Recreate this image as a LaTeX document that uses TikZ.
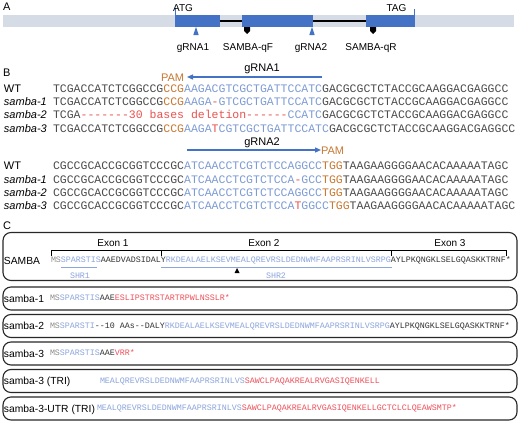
\documentclass[tikz,border=0pt]{standalone}
\usepackage{fontspec}
\setmainfont{Liberation Sans}
\setmonofont{Liberation Mono}
\usetikzlibrary{arrows.meta}
\definecolor{gblue}{RGB}{68,114,196}
\definecolor{bargray}{RGB}{214,220,230}
\definecolor{sdark}{RGB}{75,75,75}
\definecolor{sblue}{RGB}{125,155,212}
\definecolor{sorange}{RGB}{200,120,50}
\definecolor{sred}{RGB}{232,82,80}
\definecolor{pgray}{RGB}{140,140,140}
\definecolor{pblue}{RGB}{140,165,220}
\definecolor{pdark}{RGB}{50,50,50}
\definecolor{pred}{RGB}{238,80,90}
\definecolor{boxline}{RGB}{40,40,40}
\newcommand\cDk[1]{\textcolor{sdark}{#1}}
\newcommand\cBl[1]{\textcolor{sblue}{#1}}
\newcommand\cOr[1]{\textcolor{sorange}{#1}}
\newcommand\cRd[1]{\textcolor{sred}{#1}}
\newcommand\pGy[1]{\textcolor{pgray}{#1}}
\newcommand\pBl[1]{\textcolor{pblue}{#1}}
\newcommand\pDk[1]{\textcolor{pdark}{#1}}
\newcommand\pRd[1]{\textcolor{pred}{#1}}
\begin{document}
\begin{tikzpicture}[x=1pt,y=-1pt,
  every node/.style={inner sep=0pt, outer sep=0pt},
  panel/.style={anchor=base west, font=\fontsize{11}{12}\selectfont},
  glab/.style={anchor=base, font=\fontsize{10}{12}\selectfont},
  rowlab/.style={anchor=base west, font=\fontsize{11}{12}\selectfont\itshape},
  rowlabup/.style={anchor=base west, font=\fontsize{11}{12}\selectfont},
  dnaseq/.style={anchor=base west, font=\fontsize{11.5}{12}\ttfamily},
  protseq/.style={anchor=base west, font=\fontsize{8.33}{10}\ttfamily},
  protlab/.style={anchor=base west, font=\fontsize{10.3}{12}\selectfont},
  exlab/.style={anchor=base, font=\fontsize{10}{12}\selectfont},
  shrlab/.style={anchor=base, font=\fontsize{8.33}{10}\ttfamily, text=pblue},
  pbox/.style={draw=boxline, line width=1.1pt, rounded corners=8pt, minimum width=514pt},
  garrow/.style={draw=gblue, line width=1.2pt, -{Triangle[length=6pt,width=5pt]}},
  gtri/.style={fill=gblue},
  primer/.style={fill=black}]
\useasboundingbox (0,0) rectangle (520,423);
\fill[white] (0,0) rectangle (520,423);

% ---------------- A ----------------
\node[panel] (pa) at (3,10) {A};
\fill[bargray] (3,15) rectangle (514,27);
\draw[line width=1.3pt] (220,21) -- (242,21);
\draw[line width=1.3pt] (313,21) -- (366,21);
\fill[gblue] (175,15) rectangle (220,27);
\fill[gblue] (242,15) rectangle (313,27);
\fill[gblue] (366,15) rectangle (415,27);
\draw[gblue, line width=0.9pt] (175.5,8) -- (175.5,15);
\draw[gblue, line width=0.9pt] (414.5,9) -- (414.5,15);
\node[glab] (atg) at (183,11) {ATG};
\node[glab] (tag) at (396.5,11) {TAG};
\fill[gtri] (196,27) -- (193.3,35) -- (198.7,35) -- cycle;
\fill[gtri] (312,27) -- (309.3,35) -- (314.7,35) -- cycle;
\fill[primer] (244,27) -- (250,27) -- (250,31) -- (247,34) -- (244,31) -- cycle;
\fill[primer] (370,27) -- (376,27) -- (376,31) -- (373,34) -- (370,31) -- cycle;
\node[glab] (lg1) at (193,50.5) {gRNA1};
\node[glab] (lqf) at (248,50.5) {SAMBA-qF};
\node[glab] (lg2) at (311,50.5) {gRNA2};
\node[glab] (lqr) at (371,50.5) {SAMBA-qR};

% ---------------- B ----------------
\node[panel] (pb) at (3,76) {B};
\node[anchor=base, font=\fontsize{11}{12}\selectfont] (g1lab) at (262,71) {gRNA1};
\coordinate (g1s) at (322,77);
\coordinate (g1e) at (187,77);
\draw[garrow] (g1s) -- (g1e);
\node[anchor=base west, font=\fontsize{11}{12}\selectfont, text=sorange] (pam1) at (161,81) {PAM};

\node[rowlabup] (r1a) at (4,92) {WT};
\node[rowlab] (r1b) at (4,105.3) {samba-1};
\node[rowlab] (r1c) at (4,118.6) {samba-2};
\node[rowlab] (r1d) at (4,132) {samba-3};
\node[dnaseq] (s1a) at (53,92) {\cDk{TCGACCATCTCGGCCG}\cOr{CCG}\cBl{AAGACGTCGCTGATTCCATC}\cDk{GACGCGCTCTACCGCAAGGACGAGGCC}};
\node[dnaseq] (s1b) at (53,105.3) {\cDk{TCGACCATCTCGGCCG}\cOr{CCG}\cBl{AAGA}\cRd{-}\cBl{GTCGCTGATTCCATC}\cDk{GACGCGCTCTACCGCAAGGACGAGGCC}};
\node[dnaseq] (s1c) at (53,118.6) {\cDk{TCGA}\cRd{-------30 bases deletion------}\cBl{CCATC}\cDk{GACGCGCTCTACCGCAAGGACGAGGCC}};
\node[dnaseq] (s1d) at (53,132) {\cDk{TCGACCATCTCGGCCG}\cOr{CCG}\cBl{AAGA}\cRd{T}\cBl{CGTCGCTGATTCCATC}\cDk{GACGCGCTCTACCGCAAGGACGAGGCC}};

\node[anchor=base, font=\fontsize{11}{12}\selectfont] (g2lab) at (262,145) {gRNA2};
\coordinate (g2s) at (187,150);
\coordinate (g2e) at (321,150);
\draw[garrow] (g2s) -- (g2e);
\node[anchor=base west, font=\fontsize{11}{12}\selectfont, text=sorange] (pam2) at (321,154) {PAM};

\node[rowlabup] (r2a) at (4,169.5) {WT};
\node[rowlab] (r2b) at (4,183) {samba-1};
\node[rowlab] (r2c) at (4,196.3) {samba-2};
\node[rowlab] (r2d) at (4,209.6) {samba-3};
\node[dnaseq] (s2a) at (53,169.5) {\cDk{CGCCGCACCGCGGTCCCGC}\cBl{ATCAACCTCGTCTCCAGGCC}\cOr{TGG}\cDk{TAAGAAGGGGAACACAAAAATAGC}};
\node[dnaseq] (s2b) at (53,183) {\cDk{CGCCGCACCGCGGTCCCGC}\cBl{ATCAACCTCGTCTCCA}\cRd{-}\cBl{GCC}\cOr{TGG}\cDk{TAAGAAGGGGAACACAAAAATAGC}};
\node[dnaseq] (s2c) at (53,196.3) {\cDk{CGCCGCACCGCGGTCCCGC}\cBl{ATCAACCTCGTCTCCAGGCC}\cOr{TGG}\cDk{TAAGAAGGGGAACACAAAAATAGC}};
\node[dnaseq] (s2d) at (53,209.6) {\cDk{CGCCGCACCGCGGTCCCGC}\cBl{ATCAACCTCGTCTCCA}\cRd{T}\cBl{GGCC}\cOr{TGG}\cDk{TAAGAAGGGGAACACAAAAATAGC}};

% ---------------- C ----------------
\node[panel] (pc) at (3,229) {C};
\node[pbox, minimum height=48pt] (b0) at (260,256.5) {};
\node[pbox, minimum height=23pt] (b1) at (260,298.5) {};
\node[pbox, minimum height=23pt] (b2) at (260,326) {};
\node[pbox, minimum height=23pt] (b3) at (260,353.5) {};
\node[pbox, minimum height=23pt] (b4) at (260,381) {};
\node[pbox, minimum height=23pt] (b5) at (260,408.5) {};

% exon bracket
\draw[line width=0.8pt] (51,256) -- (51,250) -- (506,250) -- (506,256);
\draw[line width=0.8pt] (161,250) -- (161,256);
\draw[line width=0.8pt] (391,250) -- (391,256);
\node[exlab] (ex1) at (113,246) {Exon 1};
\node[exlab] (ex2) at (264,246) {Exon 2};
\node[exlab] (ex3) at (450,246) {Exon 3};

\node[protlab] (lb0) at (4,264) {SAMBA};
\node[protseq] (q0) at (51,262.4) {\pGy{MS}\pBl{SPARSTIS}\pDk{AAEDVADSIDALY}\pBl{RKDEALAELKSEVMEALQREVRSLDEDNWMFAAPRSRINLVSRPG}\pDk{AYLPKQNGKLSELGQASKKTRNF*}};
\draw[pblue, line width=0.9pt] (61,267.5) -- (97,267.5);
\draw[pblue, line width=0.9pt] (161,267.5) -- (392,267.5);
\node[shrlab] (shr1) at (80,278) {SHR1};
\node[shrlab] (shr2) at (276,278) {SHR2};
\fill[black] (237,268) -- (234.5,273) -- (239.5,273) -- cycle;

\node[protlab] (lb1) at (4,302.2) {samba-1};
\node[protseq] (q1) at (50,300.9) {\pGy{MS}\pBl{SPARSTIS}\pDk{AAE}\pRd{ESLIPSTRSTARTRPWLNSSLR*}};
\node[protlab] (lb2) at (4,329.7) {samba-2};
\node[protseq] (q2) at (50,328.4) {\pGy{MS}\pBl{SPARSTI}\pDk{--10 AAs--DALY}\pBl{RKDEALAELKSEVMEALQREVRSLDEDNWMFAAPRSRINLVSRPG}\pDk{AYLPKQNGKLSELGQASKKTRNF*}};
\node[protlab] (lb3) at (4,357.2) {samba-3};
\node[protseq] (q3) at (50,355.9) {\pGy{MS}\pBl{SPARSTIS}\pDk{AAE}\pRd{VRR*}};
\node[protlab] (lb4) at (4,384.7) {samba-3 (TRI)};
\node[protseq] (q4) at (100,383.4) {\pBl{MEALQREVRSLDEDNWMFAAPRSRINLVS}\pRd{SAWCLPAQAKREALRVGASIQENKELL}};
\node[protlab] (lb5) at (4,412.2) {samba-3-UTR (TRI)};
\node[protseq] (q5) at (97,410.9) {\pBl{MEALQREVRSLDEDNWMFAAPRSRINLVS}\pRd{SAWCLPAQAKREALRVGASIQENKELLGCTCLCLQEAWSMTP*}};
\end{tikzpicture}
\end{document}
